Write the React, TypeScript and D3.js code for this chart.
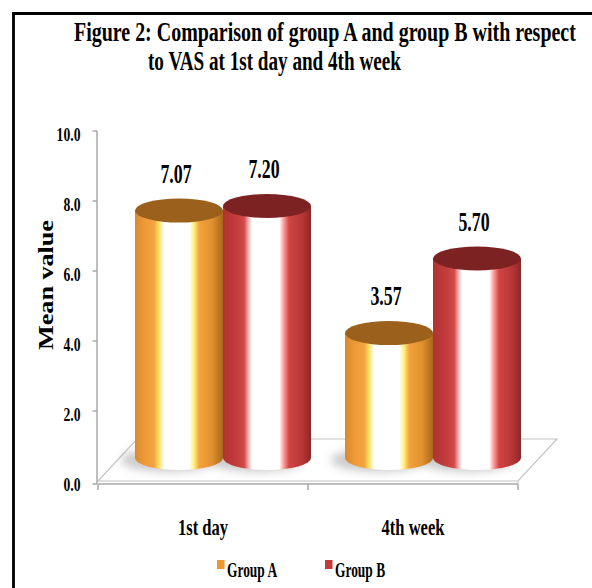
import React, { useLayoutEffect, useRef, useState } from "react";
import * as d3 from "d3";

// Chart data
const categories = ["1st day", "4th week"];
const seriesNames = ["Group A", "Group B"];
const groupA = [7.07, 3.57];
const groupB = [7.2, 5.7];
const yTicks = [0, 2, 4, 6, 8, 10];
const titleLines = [
  "Figure 2: Comparison of group A and group B with respect",
  "to VAS at 1st day and 4th week",
];
const yTitle = "Mean value";

const W = 592;
const H = 588;
const FONT = "'Liberation Serif', 'Times New Roman', serif";

// 3D floor geometry
const floorY = 481;
const depthX = 39;
const depthY = -42;
const barDX = 20;
const barDY = -23;
const rx = 44;
const ry = 12;

const yScale = d3.scaleLinear().domain([0, 10]).range([floorY, 131]);
const xScale = d3.scaleBand<string>().domain(categories).range([98, 518]);
const inner = d3.scaleBand<string>().domain(seriesNames).range([-rx * 2, rx * 2]);
const fmt = d3.format(".1f");

const palettes = [
  {
    id: "gA",
    top: "#9a611e",
    legend: "#f0962f",
    stops: [
      [0, "#d98a2c"],
      [0.12, "#f09a38"],
      [0.22, "#f4a444"],
      [0.27, "#ffdf5a"],
      [0.32, "#fffbe8"],
      [0.36, "#ffffff"],
      [0.62, "#ffffff"],
      [0.67, "#fff27a"],
      [0.73, "#f3a23c"],
      [0.88, "#e0902e"],
      [1, "#a8661e"],
    ],
  },
  {
    id: "gB",
    top: "#7b2424",
    legend: "#c43a3a",
    stops: [
      [0, "#b23232"],
      [0.15, "#c23c3c"],
      [0.24, "#d24848"],
      [0.29, "#f4b4b4"],
      [0.33, "#ffffff"],
      [0.64, "#ffffff"],
      [0.69, "#ff9c9c"],
      [0.75, "#d04444"],
      [0.9, "#b83636"],
      [1, "#8a2828"],
    ],
  },
];

const seriesValues = [groupA, groupB];

// Bold serif text, horizontally condensed by sx
function T({
  x,
  y,
  size,
  sx,
  anchor = "middle",
  children,
}: {
  x: number;
  y: number;
  size: number;
  sx: number;
  anchor?: string;
  children: React.ReactNode;
}) {
  return (
    <text
      transform={`translate(${x},${y}) scale(${sx},1)`}
      textAnchor={anchor}
      fontFamily={FONT}
      fontWeight="bold"
      fontSize={size}
      fill="#000"
    >
      {children}
    </text>
  );
}

// Bold serif text squeezed along its run to a given width
function FitText({
  x,
  y,
  size,
  width,
  rotate = 0,
  anchor = "start",
  children,
}: {
  x: number;
  y: number;
  size: number;
  width: number;
  rotate?: number;
  anchor?: string;
  children: string;
}) {
  const ref = useRef<SVGTextElement>(null);
  const [s, setS] = useState(1);
  useLayoutEffect(() => {
    if (ref.current) {
      const len = ref.current.getComputedTextLength();
      if (len > 0) setS(width / len);
    }
  }, [children, width, size]);
  return (
    <g transform={`translate(${x},${y}) rotate(${rotate}) scale(${s},1)`}>
      <text ref={ref} textAnchor={anchor} fontFamily={FONT} fontWeight="bold" fontSize={size} fill="#000">
        {children}
      </text>
    </g>
  );
}

export default function App() {
  const bw = xScale.bandwidth();
  const bounds = [xScale.range()[0], ...categories.map((c) => (xScale(c) as number) + bw)];
  const [x0, x1] = xScale.range();

  const bars = seriesNames.flatMap((s, si) =>
    categories.map((c, ci) => {
      const v = seriesValues[si][ci];
      const cx = (xScale(c) as number) + bw / 2 + barDX + (inner(s) as number) + rx;
      const base = yScale(0) + barDY;
      const top = yScale(v) + barDY;
      return { s, si, c, ci, v, cx, base, top };
    })
  );

  return (
    <svg
      width={W}
      height={H}
      viewBox={`0 0 ${W} ${H}`}
      style={{ position: "absolute", left: 0, top: 0, background: "#fff" }}
    >
      <defs>
        {palettes.map((p) => (
          <linearGradient key={p.id} id={p.id} x1="0" x2="1" y1="0" y2="0">
            {p.stops.map(([o, col], i) => (
              <stop key={i} offset={o as number} stopColor={col as string} />
            ))}
          </linearGradient>
        ))}
        <filter id="soft" x="-50%" y="-50%" width="200%" height="200%">
          <feGaussianBlur stdDeviation="4" />
        </filter>
        <filter id="edge" x="-5%" y="-5%" width="110%" height="110%">
          <feGaussianBlur stdDeviation="0.6" />
        </filter>
      </defs>

      {/* frame */}
      <path d={`M13.5,${H} L13.5,13.5 L${W},13.5`} fill="none" stroke="#000" strokeWidth={2.8} />

      {/* title */}
      <FitText x={74} y={40.5} size={27} width={502}>
        {titleLines[0]}
      </FitText>
      <FitText x={148} y={69.5} size={27} width={253}>
        {titleLines[1]}
      </FitText>

      {/* floor */}
      <polygon
        points={`${x0},${floorY} ${x1},${floorY} ${x1 + depthX},${floorY + depthY} ${x0 + depthX},${floorY + depthY}`}
        fill="#fff"
        stroke="#c4c4c4"
        strokeWidth={1.2}
      />
      <line x1={x1} x2={x1} y1={floorY} y2={floorY + 3} stroke="#c4c4c4" />

      {/* y axis */}
      <line x1={97} x2={97} y1={yScale(10)} y2={floorY + 3} stroke="#a8a8a8" strokeWidth={1.5} />
      {yTicks.map((t) => (
        <g key={t}>
          <line x1={92.5} x2={97} y1={yScale(t) + (t === 0 ? 3 : 0)} y2={yScale(t) + (t === 0 ? 3 : 0)} stroke="#a8a8a8" strokeWidth={1.5} />
          <T x={80.5} y={yScale(t) + 9.5} size={18} sx={0.76} anchor="end">
            {fmt(t)}
          </T>
        </g>
      ))}
      <FitText x={53} y={285} size={20} width={130} rotate={-90} anchor="middle">
        {yTitle}
      </FitText>

      {/* x axis */}
      <line x1={x0} x2={x1} y1={floorY + 3} y2={floorY + 3} stroke="#a8a8a8" strokeWidth={1.5} />
      {bounds.map((b, i) => (
        <line key={i} x1={b} x2={b} y1={floorY + 3} y2={floorY + 9} stroke="#a8a8a8" strokeWidth={1.5} />
      ))}
      {categories.map((c) => (
        <T key={c} x={(xScale(c) as number) + bw / 2} y={534.5} size={24} sx={0.69}>
          {c}
        </T>
      ))}

      {/* bar shadows */}
      {bars.map((b) => (
        <ellipse
          key={`sh-${b.s}-${b.c}`}
          cx={b.cx - 10}
          cy={b.base + 2}
          rx={rx + 4}
          ry={ry}
          fill="#8c8c8c"
          opacity={0.45}
          filter="url(#soft)"
        />
      ))}

      {/* cylinders */}
      {bars.map((b) => {
        const p = palettes[b.si];
        return (
          <g key={`bar-${b.s}-${b.c}`} filter="url(#edge)">
            <rect x={b.cx - rx} y={b.top} width={rx * 2} height={b.base - b.top} fill={`url(#${p.id})`} />
            <ellipse cx={b.cx} cy={b.base} rx={rx} ry={ry} fill={`url(#${p.id})`} />
            <ellipse cx={b.cx} cy={b.top} rx={rx} ry={ry} fill={p.top} />
          </g>
        );
      })}

      {/* value labels */}
      {bars.map((b) => (
        <T key={`lbl-${b.s}-${b.c}`} x={b.cx - 3} y={b.top - 28} size={27} sx={0.66}>
          {b.v.toFixed(2)}
        </T>
      ))}

      {/* legend */}
      {seriesNames.map((s, i) => {
        const lx = 217 + i * 108;
        return (
          <g key={s}>
            <rect x={lx} y={560} width={7.5} height={9} fill={palettes[i].legend} />
            <T x={lx + 10} y={577} size={22} sx={0.61} anchor="start">
              {s}
            </T>
          </g>
        );
      })}
    </svg>
  );
}
